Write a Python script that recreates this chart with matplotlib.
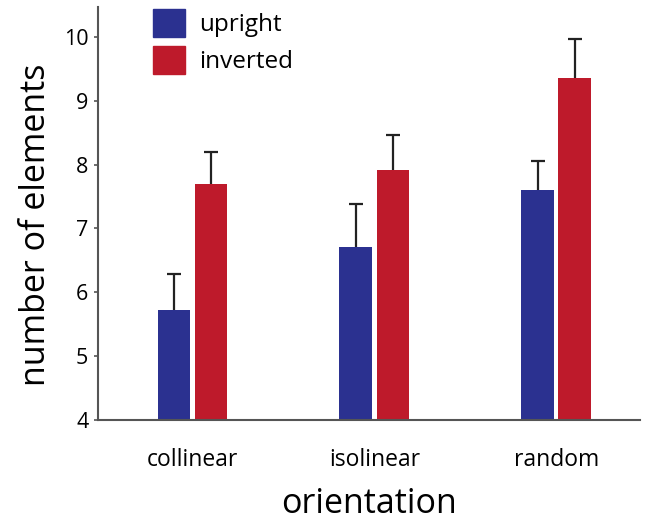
import matplotlib
matplotlib.use('Agg')
import matplotlib.pyplot as plt
from matplotlib.patches import Patch
import numpy as np

categories = ["collinear", "isolinear", "random"]
upright = [5.72, 6.71, 7.60]
upright_err = [0.57, 0.67, 0.46]
inverted = [7.69, 7.92, 9.35]
inverted_err = [0.50, 0.54, 0.62]

blue = "#2b3190"
red = "#be1a2b"

plt.rcParams['font.family'] = ['Open Sans', 'DejaVu Sans']

fig = plt.figure(figsize=(6.45, 5.2), dpi=100)
ax = fig.add_axes([0.152, 0.192, 0.84, 0.795])

x = np.arange(len(categories))
w = 0.18
off = 0.102

for pos, vals, errs, col in [(x - off, upright, upright_err, blue),
                             (x + off, inverted, inverted_err, red)]:
    ax.bar(pos, np.array(vals) - 4, w, bottom=4, color=col, zorder=2)
    top = np.array(vals) + np.array(errs)
    ax.vlines(pos, vals, top, color="#222222", lw=1.6, zorder=3)
    ax.plot(pos, top, ls="none", marker="_", ms=10, mew=1.6, color="#222222", zorder=3)

ax.set_ylim(4, 10.47)
ax.set_xlim(-0.52, 2.46)
ax.set_yticks(range(4, 11))
ax.set_xticks(x)
ax.set_xticklabels(categories)
ax.tick_params(axis='y', length=3, width=1.2, color="#555555", labelsize=15.5, pad=4)
ax.tick_params(axis='x', length=0, labelsize=16.5, pad=20)

for s in ["top", "right"]:
    ax.spines[s].set_visible(False)
for s in ["left", "bottom"]:
    ax.spines[s].set_color("#555555")
    ax.spines[s].set_linewidth(1.5)

ax.set_ylabel("number of elements", fontsize=24.5)
ax.yaxis.set_label_coords(-0.084, 0.473)
ax.set_xlabel("orientation", fontsize=24.5, labelpad=11)

handles = [Patch(color=blue, label="upright"), Patch(color=red, label="inverted")]
ax.legend(handles=handles, loc="upper left", bbox_to_anchor=(153 / 645, 1 - 9 / 520),
          bbox_transform=fig.transFigure, frameon=False, fontsize=17.5,
          handlelength=1.3, handleheight=1.4, labelspacing=0.35,
          handletextpad=0.6, borderpad=0, borderaxespad=0)

fig.savefig("out.png", dpi=100)
